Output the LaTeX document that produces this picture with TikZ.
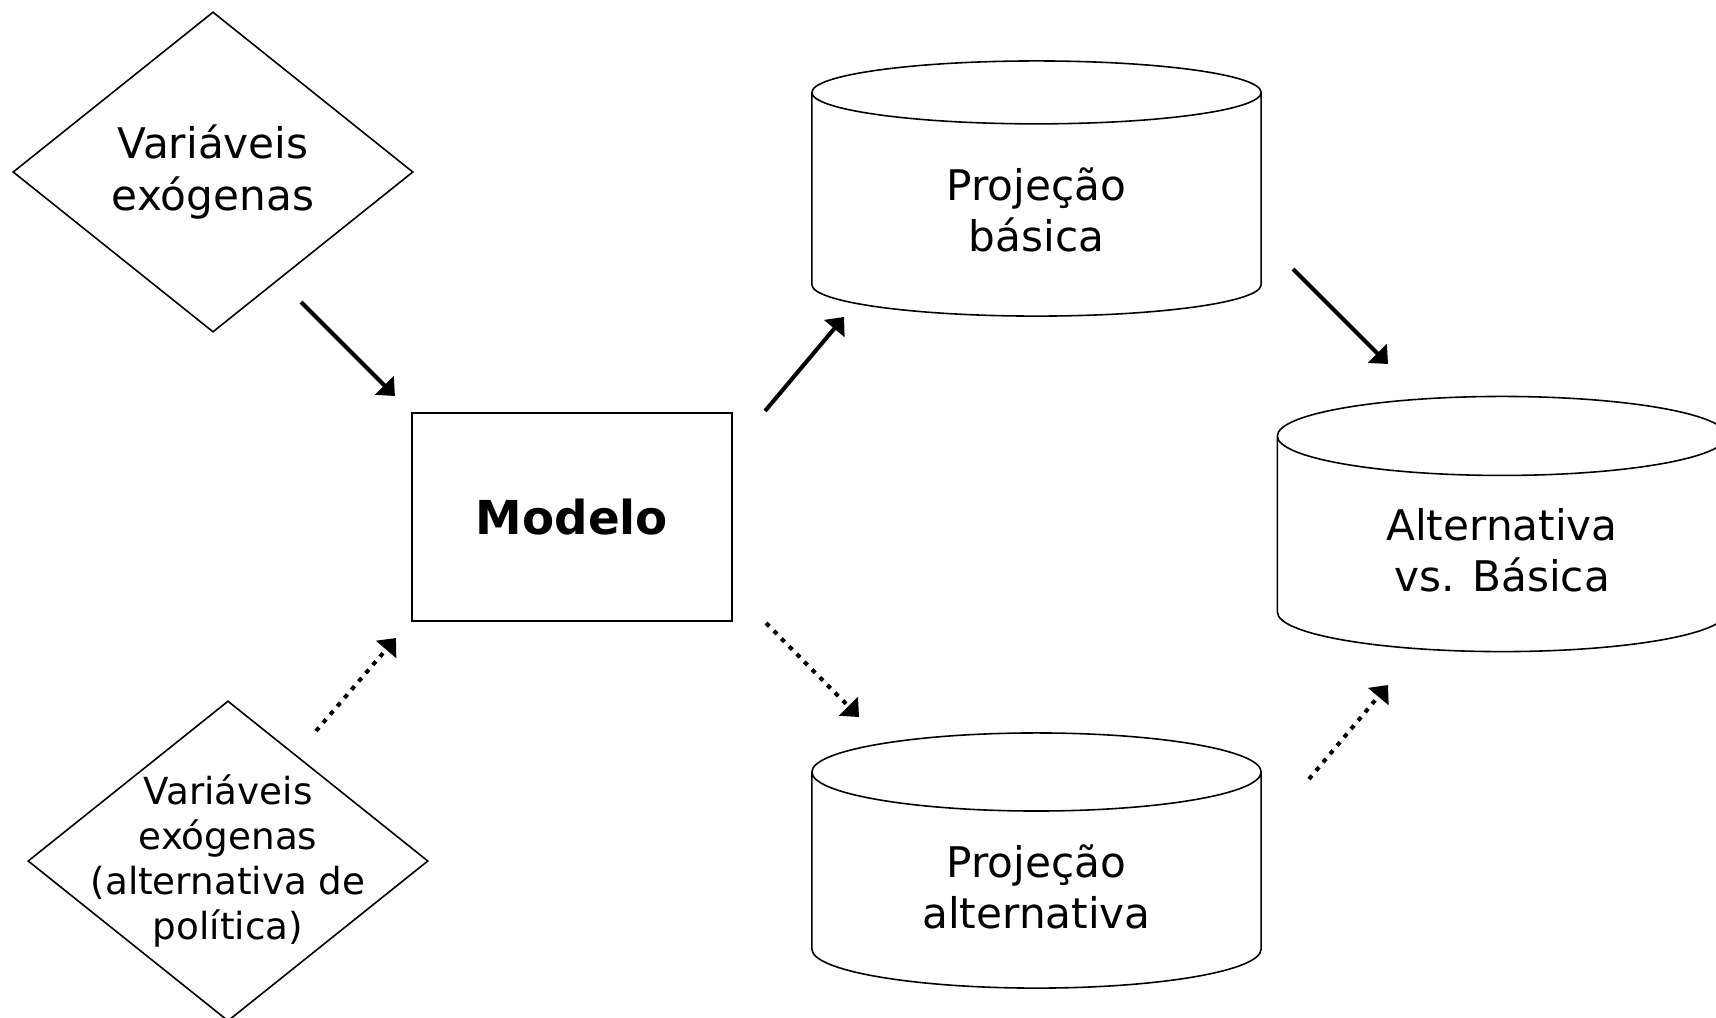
\documentclass[tikz,border=0pt]{standalone}
\usepackage{fontspec}
\setmainfont{DejaVu Sans}
\usepackage{tikz}
\usetikzlibrary{arrows.meta,shapes,scopes}
\usetikzlibrary{positioning}
\tikzstyle{exo}=[diamond,draw,line width=0.45pt,minimum width=4cm,minimum height=3.2cm,
                inner sep=0pt,align=center,font=\fontsize{12}{14.6}\selectfont]
\tikzstyle{modelo}=[rectangle,draw,line width=0.55pt,minimum width=3.2cm,minimum height=2.08cm,
                font=\fontsize{13.3}{16}\selectfont\bfseries]
\tikzstyle{base}=[cylinder,shape border rotate=90,draw,line width=0.45pt,aspect=0.31,
                minimum width=4.49cm,minimum height=2.55cm,anchor=shape center,
                align=center,font=\fontsize{12}{14.4}\selectfont]
\tikzstyle{hit}=[line width=1.15pt,-{Triangle[length=4.3pt,width=7.4pt]}]
\tikzstyle{althit}=[hit,dash pattern=on 1.3pt off 1.8pt]

\begin{document}
\begin{tikzpicture}[x=0.01cm,y=-0.01cm]
\useasboundingbox (0,0) rectangle (1716,1017);
\node[exo] (v1) at (213,172) {Variáveis\\exógenas};
\node[exo,label={[align=center,font=\fontsize{10.6}{12.8}\selectfont]center:Variáveis\\exógenas\\(alternativa de\\política)}]
  (v2) at (228,861) {};
\node[modelo] (mod) at (572,517) {Modelo};
\node[base] (pb) at (1036.5,188.5) {Projeção\\básica};
\node[base] (pa) at (1036.5,860.5) {Projeção\\alternativa};
\node[base] (ab) at (1502,524) {Alternativa\\vs. Básica};
% entradas
\draw[hit] ([shift={(88,130)}]v1.center) -- ([shift={(-16,-16)}]mod.north west);
\draw[althit] ([shift={(88,-130)}]v2.center) -- ([shift={(-15,16)}]mod.south west);
% saidas
\draw[hit] ([shift={(32,-1)}]mod.north east) -- ([shift={(-192.5,128.5)}]pb.shape center);
\draw[althit] ([shift={(33,1)}]mod.south east) -- ([shift={(-177.5,-143.5)}]pa.shape center);
\draw[hit] ([shift={(256.5,80.5)}]pb.shape center) -- ([shift={(-114,-160)}]ab.shape center);
\draw[althit] ([shift={(272.5,-81.5)}]pa.shape center) -- ([shift={(-114,161)}]ab.shape center);
\end{tikzpicture}
\end{document}
